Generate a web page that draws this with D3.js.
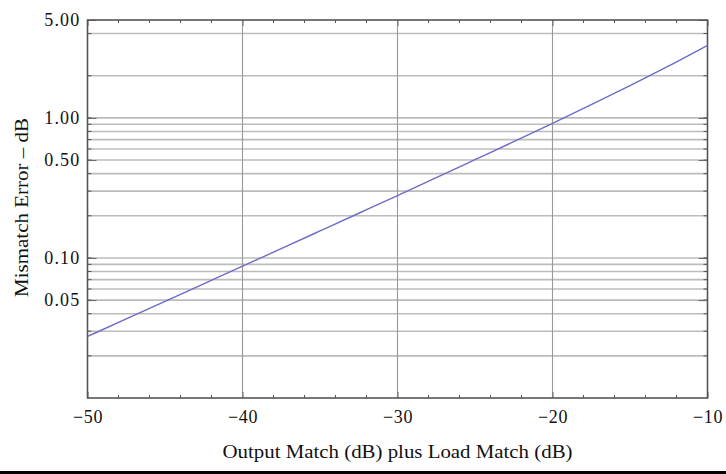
<!DOCTYPE html>
<html><head><meta charset="utf-8">
<script src="https://cdn.jsdelivr.net/npm/d3@7"></script>
<style>
html,body{margin:0;padding:0;background:#fff;}
svg{display:block;}
text{font-family:"Liberation Serif","DejaVu Serif",serif;fill:#111;}
</style></head>
<body>
<script>
// ---- data ----
const matchDb      = [-50, -47.5, -45, -42.5, -40, -37.5, -35, -32.5, -30, -27.5, -25, -22.5, -20, -17.5, -15, -12.5, -10];
const mismatchErr  = [0.0275, 0.0367, 0.049, 0.0654, 0.0873, 0.1166, 0.1559, 0.2085, 0.279, 0.374, 0.503, 0.677, 0.915, 1.243, 1.70, 2.35, 3.30];
const xTickValues  = [-50, -40, -30, -20, -10];
const xTickLabels  = ["\u221250", "\u221240", "\u221230", "\u221220", "\u221210"];
const yTickValues  = [0.05, 0.1, 0.5, 1, 5];
const yTickLabels  = ["0.05", "0.10", "0.50", "1.00", "5.00"];
const xGridValues  = [-40, -30, -20];
const yGridValues  = [4, 2, 1, 0.9, 0.8, 0.7, 0.6, 0.5, 0.4, 0.3, 0.2, 0.1, 0.09, 0.08, 0.07, 0.06, 0.05, 0.04, 0.03, 0.02];
const xMinorValues = [-48, -46, -44, -42, -38, -36, -34, -32, -28, -26, -24, -22, -18, -16, -14, -12];
const xLabel = "Output Match (dB) plus Load Match (dB)";
const yLabel = "Mismatch Error \u2013 dB";

const W = 726, H = 474;
const L = 87.5, R = 707.5, T = 20, B = 398;

const svg = d3.select("body").append("svg").attr("width", W).attr("height", H);

const x = d3.scaleLinear().domain([-50, -10]).range([L, R]);
const y = d3.scaleLog().domain([0.01, 5]).range([B, T]);

// horizontal grid
svg.append("g").selectAll("line").data(yGridValues).join("line")
  .attr("x1", L).attr("x2", R)
  .attr("y1", d => y(d)).attr("y2", d => y(d))
  .attr("stroke", "#bcbcbc").attr("stroke-width", 1.6);

// vertical grid
svg.append("g").selectAll("line").data(xGridValues).join("line")
  .attr("x1", d => x(d)).attr("x2", d => x(d))
  .attr("y1", T).attr("y2", B)
  .attr("stroke", "#999").attr("stroke-width", 1.1);

// minor ticks (bottom & top, left & right)
const minor = svg.append("g").attr("stroke", "#555").attr("stroke-width", 1);
minor.selectAll("line.b").data(xMinorValues).join("line").attr("class","b")
  .attr("x1", d => x(d)).attr("x2", d => x(d)).attr("y1", B).attr("y2", B - 3);
minor.selectAll("line.t").data(xMinorValues).join("line").attr("class","t")
  .attr("x1", d => x(d)).attr("x2", d => x(d)).attr("y1", T).attr("y2", T + 3);
minor.selectAll("line.l").data(yGridValues).join("line").attr("class","l")
  .attr("x1", L).attr("x2", L + 4).attr("y1", d => y(d)).attr("y2", d => y(d));
minor.selectAll("line.r").data(yGridValues).join("line").attr("class","r")
  .attr("x1", R).attr("x2", R - 4).attr("y1", d => y(d)).attr("y2", d => y(d));

// axes
const yAxis = d3.axisLeft(y).tickValues(yTickValues)
  .tickFormat((d, i) => yTickLabels[i]).tickSize(-9).tickPadding(7);
const gy = svg.append("g").attr("transform", `translate(${L},0)`).call(yAxis);
gy.select(".domain").remove();
gy.selectAll(".tick line").attr("stroke", "#666");
gy.selectAll(".tick text").attr("font-size", 18).attr("letter-spacing", "1.2px")
  .attr("fill", "#111").style("font-family", '"Liberation Serif", serif');

const gyr = svg.append("g").attr("transform", `translate(${R},0)`)
  .call(d3.axisRight(y).tickValues(yTickValues).tickFormat("").tickSize(-9));
gyr.select(".domain").remove();
gyr.selectAll(".tick line").attr("stroke", "#666");

const xAxis = d3.axisBottom(x).tickValues(xTickValues)
  .tickFormat((d, i) => xTickLabels[i]).tickSize(-6).tickPadding(8);
const gx = svg.append("g").attr("transform", `translate(0,${B})`).call(xAxis);
gx.select(".domain").remove();
gx.selectAll(".tick line").attr("stroke", "#666");
gx.selectAll(".tick text").attr("font-size", 18).attr("letter-spacing", "0.6px")
  .attr("fill", "#111").attr("y", 25).attr("dy", 0)
  .style("font-family", '"Liberation Serif", serif');

const gxt = svg.append("g").attr("transform", `translate(0,${T})`)
  .call(d3.axisTop(x).tickValues(xTickValues).tickFormat("").tickSize(-6));
gxt.select(".domain").remove();
gxt.selectAll(".tick line").attr("stroke", "#666");

// frame
svg.append("rect").attr("x", L).attr("y", T).attr("width", R - L).attr("height", B - T)
  .attr("fill", "none").attr("stroke", "#555").attr("stroke-width", 1.6);

// curve
const line = d3.line().x((d, i) => x(matchDb[i])).y(d => y(d)).curve(d3.curveMonotoneX);
svg.append("path").datum(mismatchErr).attr("d", line)
  .attr("fill", "none").attr("stroke", "#6c6cc6").attr("stroke-width", 1.4);

// axis titles
svg.append("text").attr("x", (L + R) / 2).attr("y", 458)
  .attr("text-anchor", "middle").attr("font-size", 18)
  .attr("textLength", 350).attr("lengthAdjust", "spacingAndGlyphs")
  .text(xLabel);

svg.append("text").attr("transform", `translate(28,${(118 + 297) / 2}) rotate(-90)`)
  .attr("text-anchor", "middle").attr("font-size", 19)
  .attr("textLength", 179).attr("lengthAdjust", "spacingAndGlyphs")
  .text(yLabel);

// bottom black bar
svg.append("rect").attr("x", 0).attr("y", 471).attr("width", W).attr("height", 3).attr("fill", "#000");
</script>
</body></html>
